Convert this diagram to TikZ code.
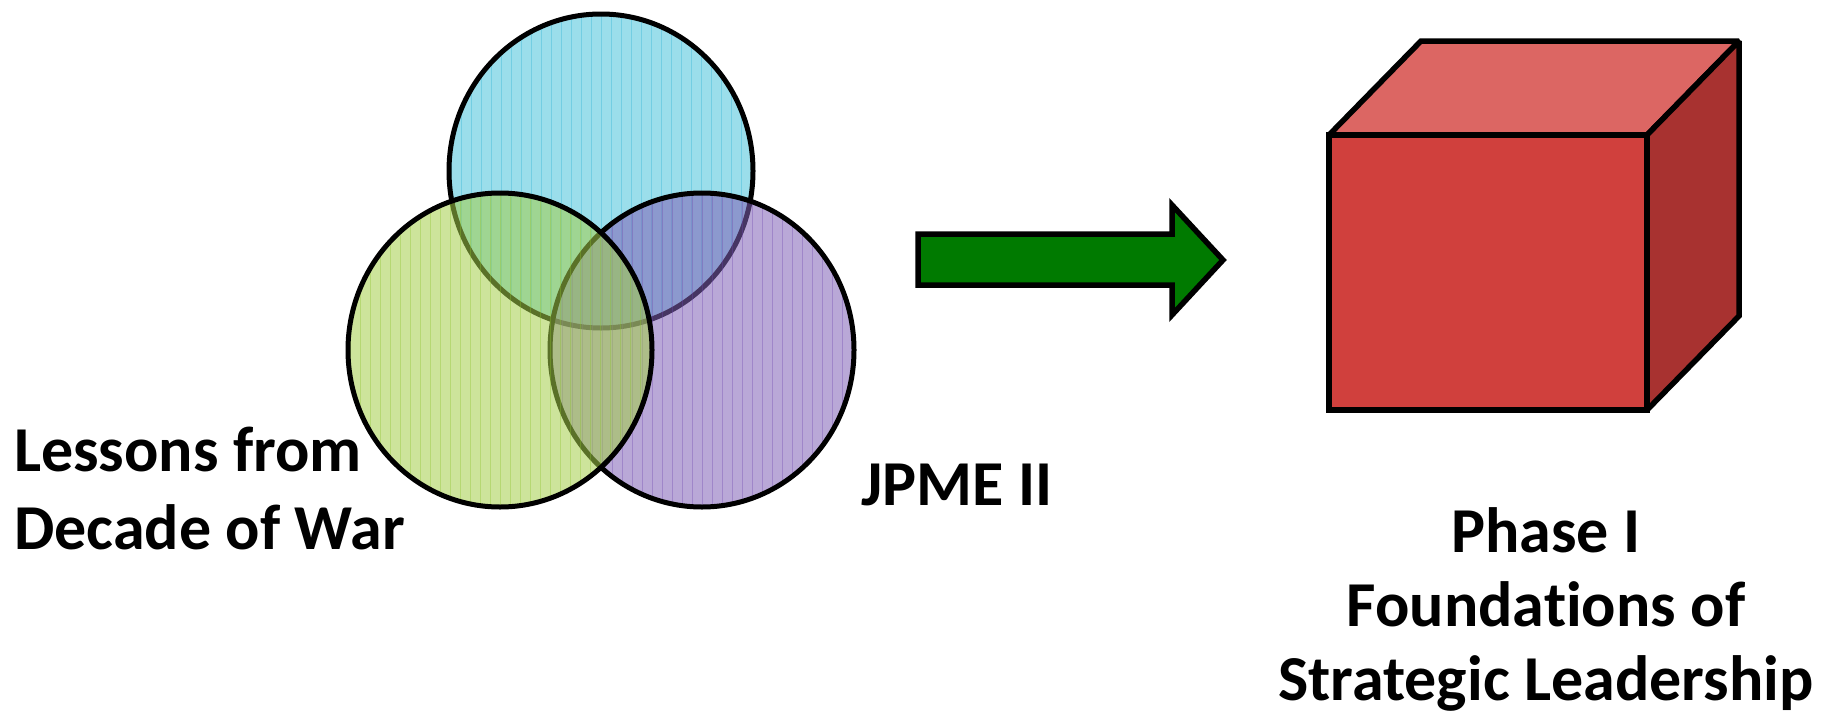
\documentclass[tikz,border=0pt]{standalone}
\usepackage{fontspec}
\setmainfont{Carlito}[Ligatures=CommonOff]
\definecolor{vblue}{RGB}{73,195,218}
\definecolor{vgreen}{RGB}{164,206,73}
\definecolor{vpurple}{RGB}{128,97,182}
\definecolor{hblue}{RGB}{40,175,215}
\definecolor{hgreen}{RGB}{140,195,40}
\definecolor{hpurple}{RGB}{110,70,175}
\definecolor{arrowgreen}{RGB}{0,122,0}
\definecolor{cubefront}{RGB}{208,64,61}
\definecolor{cubetop}{RGB}{220,102,99}
\definecolor{cubeside}{RGB}{168,50,48}
\tikzset{
  vennfill/.style={fill=#1, fill opacity=0.55, draw=none},
  venndraw/.style={draw=black, line width=5pt},
  hatchline/.style={draw=#1, line width=1pt, draw opacity=0.35},
  cubeface/.style={fill=#1, draw=black, line width=5.5pt, line join=miter, miter limit=2},
  label/.style={font=\bfseries\fontsize{64}{78}\selectfont, inner sep=0pt, text=black},
}
\newcommand{\venncircle}[4]{%
  \fill[vennfill=#3] (#1,#2) ellipse [x radius=152, y radius=157];
  \begin{scope}
    \clip (#1,#2) ellipse [x radius=152, y radius=157];
    \foreach \hx in {0,10,...,320} {
      \draw[hatchline=#4] ({#1-160+\hx},{#2-165}) -- ({#1-160+\hx},{#2+165});
    }
  \end{scope}
  \draw[venndraw] (#1,#2) ellipse [x radius=152, y radius=157];
}
\begin{document}
\begin{tikzpicture}[x=1pt,y=-1pt]
\useasboundingbox (0,0) rectangle (1837,715);
% Venn diagram: blue (top), purple (right), green (left)
\coordinate (cblue) at (601,171);
\coordinate (cpurple) at (702,350);
\coordinate (cgreen) at (500,350);
\venncircle{601}{171}{vblue}{hblue}
\venncircle{702}{350}{vpurple}{hpurple}
\venncircle{500}{350}{vgreen}{hgreen}
% arrow
\draw[fill=arrowgreen, line width=5.5pt, line join=miter]
  (918,234) -- (1172,234) -- (1172,205) -- (1223,260) -- (1172,315) -- (1172,285) -- (918,285) -- cycle;
% cube
\coordinate (fA) at (1329,135);
\coordinate (fB) at (1647,135);
\coordinate (fC) at (1647,410);
\coordinate (fD) at (1329,410);
\coordinate (bA) at (1421,41);
\coordinate (bB) at (1739,41);
\coordinate (bC) at (1739,316);
\draw[cubeface=cubetop] (fA) -- (bA) -- (bB) -- (fB) -- cycle;
\draw[cubeface=cubeside] (fB) -- (bB) -- (bC) -- (fC) -- cycle;
\draw[cubeface=cubefront] (fA) -- (fB) -- (fC) -- (fD) -- cycle;
% labels
\node[label, anchor=base west, align=left] (lessons) at (14,549) {Lessons from\\Decade of War};
\node[label, anchor=base west] (jpme) at (861,505) {JPME II};
\node[label, anchor=base, align=center, font=\bfseries\fontsize{64}{74}\selectfont] (phase) at (1546,700) {Phase I\\Foundations of\\Strategic Leadership};
\end{tikzpicture}
\end{document}
